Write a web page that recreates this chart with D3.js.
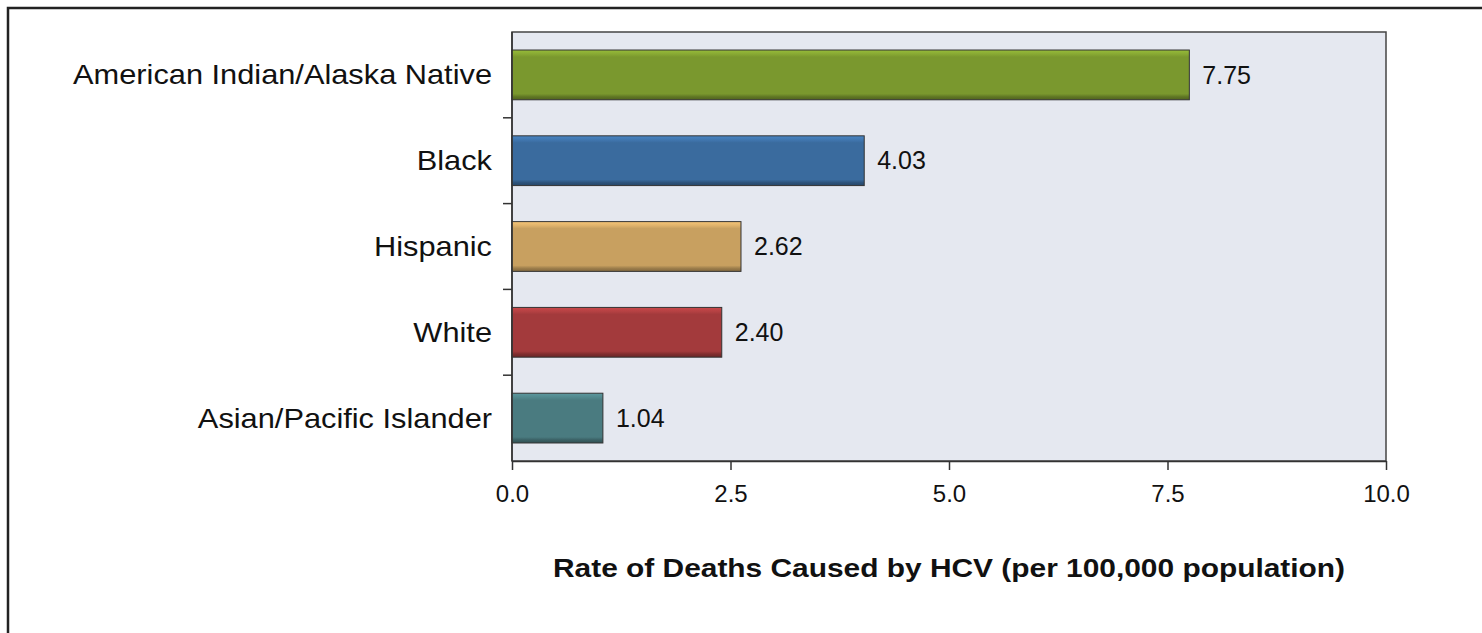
<!DOCTYPE html>
<html>
<head>
<meta charset="utf-8">
<script src="https://cdn.jsdelivr.net/npm/d3@7"></script>
<style>
  body { margin: 0; background: #fff; }
  svg { font-family: "Liberation Sans", Arial, sans-serif; }
</style>
</head>
<body>
<svg width="1482" height="633"></svg>
<script>
const categories = ['American Indian/Alaska Native', 'Black', 'Hispanic', 'White', 'Asian/Pacific Islander'];
const rates = [7.75, 4.03, 2.62, 2.40, 1.04];
const barColors = ['#7a982e', '#3a6b9e', '#c8a060', '#a33a3c', '#4a7b80'];
const xTicks = [0, 2.5, 5, 7.5, 10];
const xTitle = 'Rate of Deaths Caused by HCV (per 100,000 population)';

const data = categories.map((c, i) => ({category: c, rate: rates[i], color: barColors[i]}));

const svg = d3.select('svg');
const margin = {left: 512, top: 32, right: 96, bottom: 172};
const width = +svg.attr('width');
const height = +svg.attr('height');
const innerWidth = width - margin.left - margin.right;
const innerHeight = height - margin.top - margin.bottom;

// outer frame (top and left only)
svg.append('path')
  .attr('d', `M8,${height} V8 H${width}`)
  .attr('fill', 'none').attr('stroke', '#222').attr('stroke-width', 2.5);

const xScale = d3.scaleLinear().domain([0, 10]).range([0, innerWidth]);
const yScale = d3.scaleBand().domain(categories).range([0, innerHeight]).paddingInner(0.42).paddingOuter(0.21);
const yBand = d3.scaleBand().domain(categories).range([0, innerHeight]);

const defs = svg.append('defs');
data.forEach((d, i) => {
  const c = d3.color(d.color);
  const g = defs.append('linearGradient').attr('id', 'g' + i)
    .attr('x1', 0).attr('y1', 0).attr('x2', 0).attr('y2', 1);
  g.append('stop').attr('offset', '0').attr('stop-color', c.brighter(0.6));
  g.append('stop').attr('offset', '0.08').attr('stop-color', c.brighter(0.3));
  g.append('stop').attr('offset', '0.14').attr('stop-color', c);
  g.append('stop').attr('offset', '0.88').attr('stop-color', c);
  g.append('stop').attr('offset', '0.94').attr('stop-color', c.darker(0.7));
  g.append('stop').attr('offset', '1').attr('stop-color', c.darker(1.2));
});

const g = svg.append('g').attr('transform', `translate(${margin.left},${margin.top})`);

g.append('rect')
  .attr('width', innerWidth).attr('height', innerHeight)
  .attr('fill', '#e5e8f0').attr('stroke', '#444').attr('stroke-width', 1.5);

g.selectAll('rect.bar').data(data).enter().append('rect')
  .attr('class', 'bar')
  .attr('x', 0)
  .attr('y', d => yScale(d.category))
  .attr('width', d => xScale(d.rate))
  .attr('height', yScale.bandwidth())
  .attr('fill', (d, i) => `url(#g${i})`)
  .attr('stroke', '#333').attr('stroke-width', 1);

g.selectAll('text.val').data(data).enter().append('text')
  .attr('class', 'val')
  .attr('x', d => xScale(d.rate) + 13)
  .attr('y', d => yScale(d.category) + yScale.bandwidth() / 2)
  .attr('dy', '0.35em')
  .attr('font-size', 25).attr('fill', '#111')
  .text(d => d.rate.toFixed(2));

// left axis: ticks at band boundaries
const yAxis = g.append('g');
yAxis.append('line').attr('x1', 0).attr('x2', 0).attr('y1', 0).attr('y2', innerHeight)
  .attr('stroke', '#333').attr('stroke-width', 1.5);
yAxis.selectAll('line.tk').data(categories.slice(1)).enter().append('line')
  .attr('class', 'tk')
  .attr('x1', -9).attr('x2', 0)
  .attr('y1', d => yBand(d)).attr('y2', d => yBand(d))
  .attr('stroke', '#333').attr('stroke-width', 1.5);
// labels are a bit wide in the original, stretch them horizontally
yAxis.selectAll('text').data(categories).enter().append('text')
  .attr('transform', d => `translate(-20,${yBand(d) + yBand.bandwidth() / 2}) scale(1.14,1)`)
  .attr('dy', '0.35em')
  .attr('text-anchor', 'end')
  .attr('font-size', 27).attr('fill', '#111')
  .text(d => d);

const xAxis = g.append('g').attr('transform', `translate(0,${innerHeight})`)
  .call(d3.axisBottom(xScale).tickValues(xTicks).tickFormat(d3.format('.1f')).tickSize(9).tickSizeOuter(0));
xAxis.select('.domain').attr('stroke', '#333').attr('stroke-width', 1.5);
xAxis.selectAll('.tick line').attr('stroke', '#333').attr('stroke-width', 1.5);
xAxis.selectAll('.tick text')
  .attr('font-family', '"Liberation Sans", Arial, sans-serif')
  .attr('font-size', 24).attr('fill', '#111').attr('dy', '1.2em');

g.append('text')
  .attr('transform', `translate(${innerWidth / 2},${innerHeight + 116}) scale(1.15,1)`)
  .attr('text-anchor', 'middle')
  .attr('font-size', 26).attr('font-weight', 'bold').attr('fill', '#111')
  .text(xTitle);
</script>
</body>
</html>
